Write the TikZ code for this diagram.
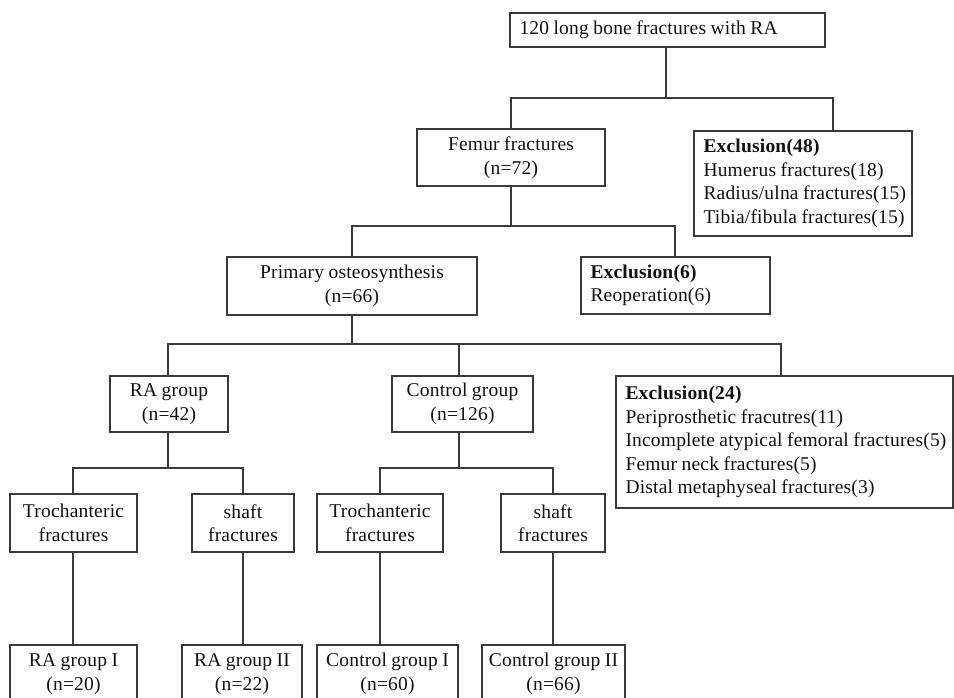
\documentclass[tikz,border=0pt]{standalone}
\usepackage{fontspec}
\setmainfont{Liberation Serif}[LetterSpace=1]
\definecolor{linegray}{HTML}{3A3A3A}
\definecolor{txt}{HTML}{111111}
\tikzset{
  every picture/.style={x=1pt,y=-1pt},
  cbox/.style={draw=linegray,line width=1.4pt,inner sep=0pt,align=center,text=txt,
    font=\fontsize{19.5}{23.5}\selectfont,
    execute at begin node={\spaceskip=4.5pt plus 1pt\relax}},
  lbox/.style={cbox,align=left},
  conn/.style={draw=linegray,line width=1.4pt},
}
\hbadness=10000 \hfuzz=100pt
% centred box: name, left, top, right, bottom, text
\newcommand{\cbx}[6]{%
  \node[cbox,minimum width={#4-#2},minimum height={#5-#3}]
    (#1) at ({(#2+#4)/2},{(#3+#5)/2}) {#6};}
% left-aligned box
\newcommand{\lbx}[6]{%
  \node[lbox,minimum width={#4-#2},minimum height={#5-#3},text width={#4-#2-19}]
    (#1) at ({(#2+#4)/2},{(#3+#5)/2}) {#6};}
\begin{document}
\begin{tikzpicture}
\useasboundingbox (0,0) rectangle (954,697);
\clip (0,0) rectangle (954,697);
\fill[white] (0,0) rectangle (954,697);

\lbx{top}{510}{13}{825}{47}{\mbox{120 long bone fractures with RA}}
\cbx{femur}{417}{129}{605}{186}{Femur fractures\\(n=72)}
\lbx{exA}{694}{131}{912}{236}{\mbox{\textbf{Exclusion(48)}}\\\mbox{Humerus fractures(18)}\\\mbox{Radius/ulna fractures(15)}\\\mbox{Tibia/fibula fractures(15)}}
\cbx{prim}{227}{257}{477}{315}{Primary osteosynthesis\\(n=66)}
\lbx{exB}{581}{257}{770}{314}{\mbox{\textbf{Exclusion(6)}}\\\mbox{Reoperation(6)}}
\cbx{rag}{110}{376}{228}{432}{RA group\\(n=42)}
\cbx{ctl}{392}{376}{533}{432}{Control group\\(n=126)}
\lbx{exC}{616}{376}{953}{508}{\mbox{\textbf{Exclusion(24)}}\\\mbox{Periprosthetic fracutres(11)}\\\mbox{Incomplete atypical femoral fractures(5)}\\\mbox{Femur neck fractures(5)}\\\mbox{Distal metaphyseal fractures(3)}}
\cbx{troA}{10}{494}{137}{552}{Trochanteric\\fractures}
\cbx{shA}{192}{494}{294}{552}{shaft\\fractures}
\cbx{troB}{317}{494}{443}{552}{Trochanteric\\fractures}
\cbx{shB}{501}{494}{605}{552}{shaft\\fractures}
\cbx{gA}{10}{645}{137}{703}{RA group I\\(n=20)}
\cbx{gB}{182}{645}{302}{703}{RA group II\\(n=22)}
\cbx{gC}{317}{645}{458}{703}{Control group I\\(n=60)}
\cbx{gD}{482}{645}{625}{703}{Control group II\\(n=66)}

% level 1
\coordinate (j1) at (666,98);
\coordinate (j1r) at (833,98);
\draw[conn] (j1 |- top.south) -- (j1);
\draw[conn] (femur.north) |- (j1r) -- (j1r |- exA.north);
% level 2
\coordinate (j2) at (511,226);
\coordinate (j2r) at (675,226);
\draw[conn] (femur.south) -- (j2);
\draw[conn] (prim.north) |- (j2r) -- (j2r |- exB.north);
% level 3
\coordinate (j3) at (352,344);
\coordinate (j3l) at (168,344);
\coordinate (j3m) at (459,344);
\coordinate (j3r) at (781,344);
\draw[conn] (prim.south) -- (j3);
\draw[conn] (j3l |- rag.north) -- (j3l) -- (j3r) -- (j3r |- exC.north);
\draw[conn] (j3m) -- (j3m |- ctl.north);
% RA branch
\coordinate (r1) at (168,468);
\coordinate (r1l) at (73,468);
\coordinate (r1r) at (243,468);
\draw[conn] (r1 |- rag.south) -- (r1);
\draw[conn] (r1l |- troA.north) -- (r1l) -- (r1r) -- (r1r |- shA.north);
% Control branch
\coordinate (c1) at (459,468);
\coordinate (c1l) at (380,468);
\coordinate (c1r) at (553,468);
\draw[conn] (c1 |- ctl.south) -- (c1);
\draw[conn] (c1l |- troB.north) -- (c1l) -- (c1r) -- (c1r |- shB.north);
% to bottom
\draw[conn] (r1l |- troA.south) -- (r1l |- gA.north);
\draw[conn] (r1r |- shA.south) -- (r1r |- gB.north);
\draw[conn] (c1l |- troB.south) -- (c1l |- gC.north);
\draw[conn] (c1r |- shB.south) -- (c1r |- gD.north);
\end{tikzpicture}
\end{document}
